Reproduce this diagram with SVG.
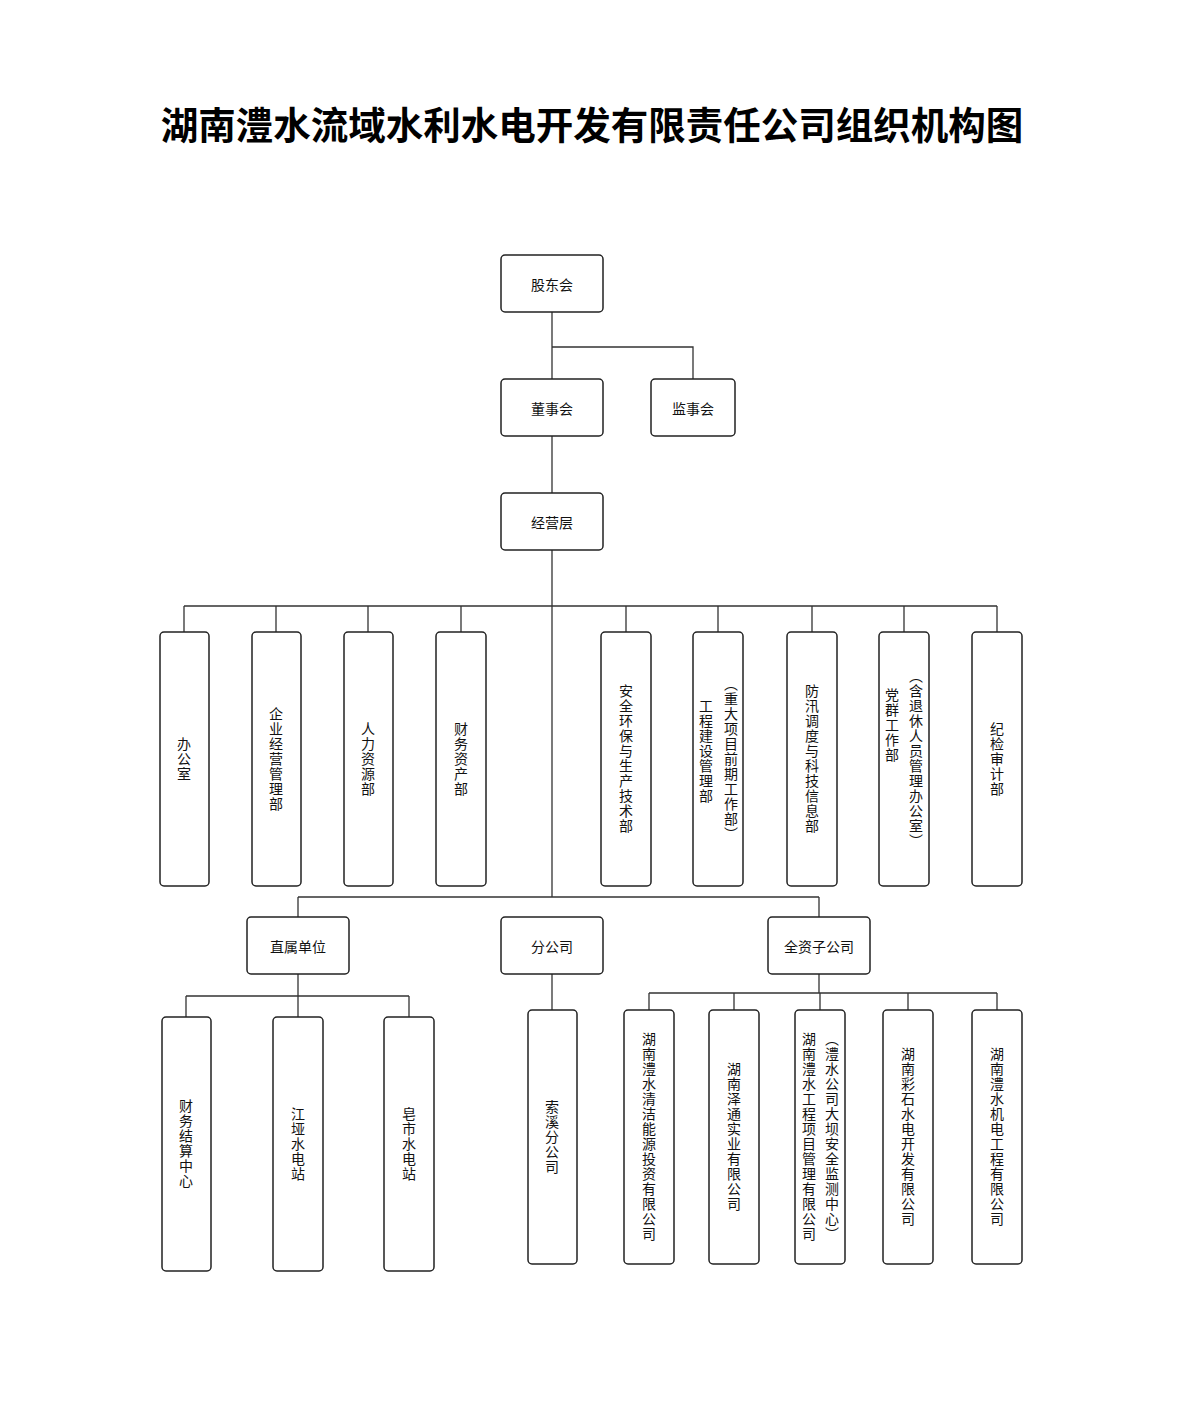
<svg xmlns="http://www.w3.org/2000/svg" width="1184" height="1403" viewBox="0 0 1184 1403">
<style>
.n{fill:#fff;stroke:#222;stroke-width:1.5}
.t{font-family:"Noto Sans CJK SC","Noto Sans",sans-serif;font-size:14px;fill:#111;text-anchor:middle;dominant-baseline:central}
.v{font-family:"Noto Sans CJK SC","Noto Sans",sans-serif;font-size:14px;fill:#111;writing-mode:vertical-rl;text-anchor:middle;letter-spacing:1px}
.c{fill:none;stroke:#333;stroke-width:1.3}
</style>
<rect width="1184" height="1403" fill="#fff"/>
<text x="592" y="122" font-family="'Noto Sans CJK SC',sans-serif" font-size="37.5" font-weight="bold" text-anchor="middle" dominant-baseline="central" fill="#000">湖南澧水流域水利水电开发有限责任公司组织机构图</text>
<g id="connectors" class="c">
<path d="M552 312V379M552 347H693V379M552 436V493M552 550V897"/>
<path d="M184 606H997M184 606V632M276 606V632M368 606V632M461 606V632M626 606V632M718 606V632M812 606V632M904 606V632M997 606V632"/>
<path d="M298 897H819M298 897V917M819 897V917"/>
<path d="M298 974V996M186 996H409M186 996V1017M298 996V1017M409 996V1017"/>
<path d="M552 974V1010"/>
<path d="M819 974V993M649 993H997M649 993V1010M734 993V1010M820 993V1010M908 993V1010M997 993V1010"/>
</g>
<g id="n1"><rect class="n" x="501" y="255" width="102" height="57" rx="4"/><text class="t" x="552" y="284">股东会</text></g>
<g id="n2"><rect class="n" x="501" y="379" width="102" height="57" rx="4"/><text class="t" x="552" y="408">董事会</text></g>
<g id="n3"><rect class="n" x="651" y="379" width="84" height="57" rx="4"/><text class="t" x="693" y="408">监事会</text></g>
<g id="n4"><rect class="n" x="501" y="493" width="102" height="57" rx="4"/><text class="t" x="552" y="522">经营层</text></g>
<g id="d1"><rect class="n" x="160" y="632" width="49" height="254" rx="4"/><text class="v" x="184" y="759">办公室</text></g>
<g id="d2"><rect class="n" x="252" y="632" width="49" height="254" rx="4"/><text class="v" x="276" y="759">企业经营管理部</text></g>
<g id="d3"><rect class="n" x="344" y="632" width="49" height="254" rx="4"/><text class="v" x="368" y="759">人力资源部</text></g>
<g id="d4"><rect class="n" x="436" y="632" width="50" height="254" rx="4"/><text class="v" x="461" y="759">财务资产部</text></g>
<g id="d5"><rect class="n" x="601" y="632" width="50" height="254" rx="4"/><text class="v" x="626" y="759">安全环保与生产技术部</text></g>
<g id="d6"><rect class="n" x="693" y="632" width="50" height="254" rx="4"/><text class="v" x="731" y="759">（重大项目前期工作部）</text><text class="v" x="706" y="751">工程建设管理部</text></g>
<g id="d7"><rect class="n" x="787" y="632" width="50" height="254" rx="4"/><text class="v" x="812" y="759">防汛调度与科技信息部</text></g>
<g id="d8"><rect class="n" x="879" y="632" width="50" height="254" rx="4"/><text class="v" x="916" y="759">（含退休人员管理办公室）</text><text class="v" x="892" y="725">党群工作部</text></g>
<g id="d9"><rect class="n" x="972" y="632" width="50" height="254" rx="4"/><text class="v" x="997" y="759">纪检审计部</text></g>
<g id="m1"><rect class="n" x="247" y="917" width="102" height="57" rx="4"/><text class="t" x="298" y="946">直属单位</text></g>
<g id="m2"><rect class="n" x="501" y="917" width="102" height="57" rx="4"/><text class="t" x="552" y="946">分公司</text></g>
<g id="m3"><rect class="n" x="768" y="917" width="102" height="57" rx="4"/><text class="t" x="819" y="946">全资子公司</text></g>
<g id="b1"><rect class="n" x="162" y="1017" width="49" height="254" rx="4"/><text class="v" x="186" y="1144">财务结算中心</text></g>
<g id="b2"><rect class="n" x="273" y="1017" width="50" height="254" rx="4"/><text class="v" x="298" y="1144">江垭水电站</text></g>
<g id="b3"><rect class="n" x="384" y="1017" width="50" height="254" rx="4"/><text class="v" x="409" y="1144">皂市水电站</text></g>
<g id="b4"><rect class="n" x="528" y="1010" width="49" height="254" rx="4"/><text class="v" x="552" y="1137">索溪分公司</text></g>
<g id="b5"><rect class="n" x="624" y="1010" width="50" height="254" rx="4"/><text class="v" x="649" y="1137">湖南澧水清洁能源投资有限公司</text></g>
<g id="b6"><rect class="n" x="709" y="1010" width="50" height="254" rx="4"/><text class="v" x="734" y="1137">湖南泽通实业有限公司</text></g>
<g id="b7"><rect class="n" x="795" y="1010" width="50" height="254" rx="4"/><text class="v" x="832" y="1137">（澧水公司大坝安全监测中心）</text><text class="v" x="809" y="1137">湖南澧水工程项目管理有限公司</text></g>
<g id="b8"><rect class="n" x="883" y="1010" width="50" height="254" rx="4"/><text class="v" x="908" y="1137">湖南彩石水电开发有限公司</text></g>
<g id="b9"><rect class="n" x="972" y="1010" width="50" height="254" rx="4"/><text class="v" x="997" y="1137">湖南澧水机电工程有限公司</text></g>
</svg>
